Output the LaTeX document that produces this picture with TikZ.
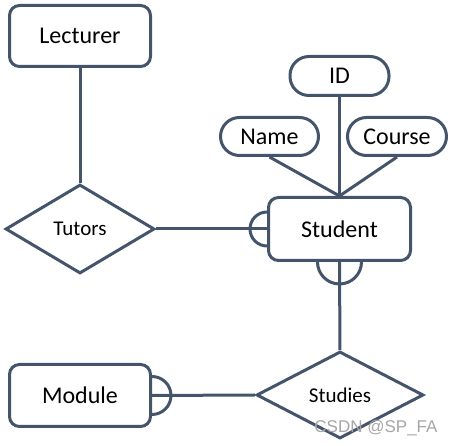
\documentclass[tikz,border=0pt]{standalone}
\usepackage{fontspec}
\setmainfont{Carlito}
\newfontfamily\wmfont{Liberation Sans}
\usetikzlibrary{shapes.geometric}
\definecolor{erline}{HTML}{44546A}
\begin{document}
\begin{tikzpicture}[x=1pt,y=-1pt,
  every node/.style={text=black},
  ent/.style={draw=erline, line width=3pt, rounded corners=10pt, fill=white, inner sep=0pt,
    font=\fontsize{24}{27}\selectfont},
  attr/.style={draw=erline, line width=3pt, rounded corners=19pt, fill=white, inner sep=0pt,
    font=\fontsize{24}{27}\selectfont},
  rel/.style={draw=erline, line width=3pt, diamond, fill=white, inner sep=0pt,
    font=\fontsize{21}{24}\selectfont},
  conn/.style={draw=erline, line width=3pt},
]
\useasboundingbox (0,0) rectangle (451,446);
% entities
\node[ent, minimum width=141pt, minimum height=61pt] (lect) at (80,36) {Lecturer};
\node[ent, minimum width=142pt, minimum height=63pt] (stud) at (339.5,229) {Student};
\node[ent, minimum width=141pt, minimum height=62pt] (mod) at (80,395.5) {Module};
% attributes
\node[attr, minimum width=99pt, minimum height=39pt] (id) at (339.5,76) {ID};
\node[attr, minimum width=98pt, minimum height=38pt] (name) at (269.5,136.5) {Name};
\node[attr, minimum width=99pt, minimum height=38pt] (course) at (397,136.5) {Course};
% relationships
\node[rel, minimum width=149pt, minimum height=89pt] (tut) at (80,229) {Tutors};
\node[rel, minimum width=167pt, minimum height=87pt] (stds) at (340,395) {Studies};
% connectors
\draw[conn] (lect.south) -- (tut.north);
\draw[conn] (tut.east) -- (stud.west);
\draw[conn] (stud.south) -- (stds.north);
\draw[conn] (mod.east) -- (stds.west);
\draw[conn] (name.south) -- (stud.north);
\draw[conn] (id.south) -- (stud.north);
\draw[conn] (course.south) -- (stud.north);
% half circles
\draw[conn] ([yshift=17pt]stud.west) arc[start angle=90, end angle=270, radius=17pt];
\draw[conn] ([xshift=-22pt]stud.south) arc[start angle=180, end angle=360, radius=22pt];
\draw[conn] ([yshift=19pt]mod.east) arc[start angle=90, end angle=-90, radius=19pt];
% watermark
\node[text=black!35, font=\wmfont\fontsize{17}{19}\selectfont] (wm) at (376,428) {CSDN @SP\_FA};
\end{tikzpicture}
\end{document}
